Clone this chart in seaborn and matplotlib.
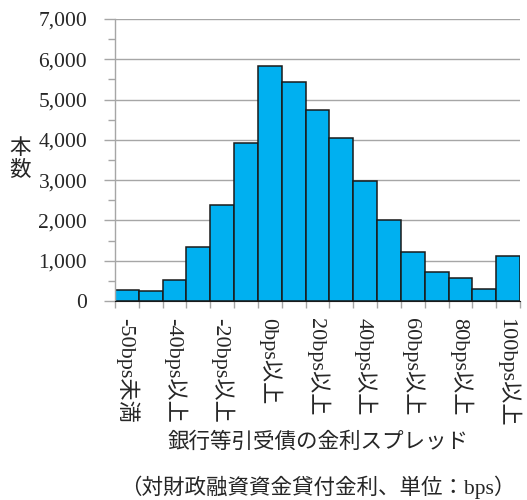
import numpy as np
import pandas as pd
import matplotlib
matplotlib.use("Agg")
import matplotlib.pyplot as plt
from matplotlib.ticker import MultipleLocator, FuncFormatter, FixedLocator
import seaborn as sns

# 金利スプレッド区分（10bps刻み）
categories = ["-50bps未満", "-50bps以上", "-40bps以上", "-30bps以上", "-20bps以上",
              "-10bps以上", "0bps以上", "10bps以上", "20bps以上", "30bps以上",
              "40bps以上", "50bps以上", "60bps以上", "70bps以上", "80bps以上",
              "90bps以上", "100bps以上"]
counts = [270, 240, 515, 1330, 2390, 3910, 5830, 5435, 4745, 4040,
          2990, 2010, 1210, 730, 580, 305, 1105]
# 表示するラベルは1つおき
label_idx = [0, 2, 4, 6, 8, 10, 12, 14, 16]
tick_labels = [categories[i] for i in label_idx]

sns.set_style("white")
plt.rcParams["font.family"] = ["Liberation Serif", "Noto Sans CJK JP"]
FS = 15.5

df = pd.DataFrame({"cat": categories, "n": counts})

fig = plt.figure(figsize=(5.27, 5.0), dpi=100)
ax = fig.add_axes([115 / 527, 1 - 301 / 500, 405 / 527, 282 / 500])

sns.barplot(data=df, x="cat", y="n", order=categories, color="#00B0F0",
            saturation=1, width=1.0, edgecolor="#1a1a1a", linewidth=1.1, ax=ax)

ax.set_xlim(-0.5, len(categories) - 0.5)
ax.set_ylim(0, 7000)
ax.set_axisbelow(True)

# y軸
ax.yaxis.set_major_locator(MultipleLocator(1000))
ax.yaxis.set_minor_locator(MultipleLocator(500))
ax.yaxis.set_major_formatter(FuncFormatter(lambda v, p: f"{int(v):,}"))
ax.grid(axis="y", which="major", color="#a6a6a6", linewidth=1.0)
ax.tick_params(axis="y", which="major", left=True, length=8, width=1.0,
               color="#a6a6a6", pad=12, labelsize=FS)
ax.tick_params(axis="y", which="minor", left=True, length=5, width=1.0,
               color="#a6a6a6")

# x軸: 目盛線は区分の境界、ラベルは棒の中央
ax.xaxis.set_major_locator(FixedLocator(np.arange(-0.5, len(categories), 1.0)))
ax.xaxis.set_minor_locator(FixedLocator(label_idx))
ax.set_xticklabels([], minor=False)
ax.set_xticklabels(tick_labels, minor=True, rotation=-90, va="top", ha="center",
                   fontsize=16)
ax.tick_params(axis="x", which="major", bottom=True, length=5, width=1.0,
               color="#a6a6a6")
ax.tick_params(axis="x", which="minor", bottom=True, length=0, pad=12)

for s in ["top", "right"]:
    ax.spines[s].set_visible(False)
ax.spines["left"].set_color("#a6a6a6")
ax.spines["left"].set_linewidth(1.0)
ax.spines["bottom"].set_color("#1a1a1a")

ax.set_ylabel("本\n数", rotation=0, va="center", ha="center", fontsize=FS,
              linespacing=1.1)
ax.yaxis.set_label_coords(-0.235, 0.5)
ax.set_xlabel("")

cx = (115 + 405 / 2) / 527
fig.text(cx, 1 - 443 / 500, "銀行等引受債の金利スプレッド",
         ha="center", va="center", fontsize=FS)
fig.text(cx, 1 - 487 / 500, "（対財政融資資金貸付金利、単位：bps）",
         ha="center", va="center", fontsize=FS)

plt.savefig("out.png", dpi=100)
plt.close()
